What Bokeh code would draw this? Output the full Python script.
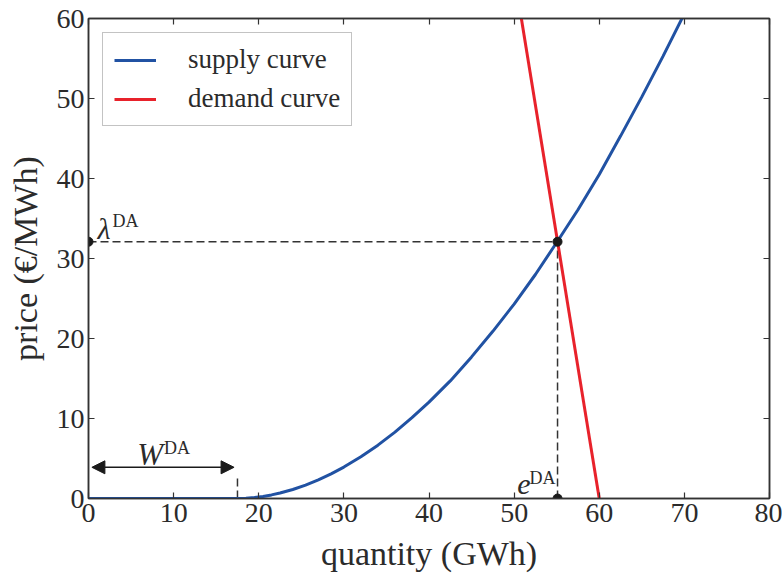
from bokeh.plotting import figure
from bokeh.models import (LinearAxis, Range1d, Label, Arrow, NormalHead, FixedTicker)
from bokeh.embed import file_html
from bokeh.resources import INLINE

# ---- data ----
supply_q = [0, 17.5, 18.5, 19.5, 20.5, 21.5, 22.5, 24, 25.5, 27, 28.5, 30, 32, 34, 36,
            38, 40, 42.5, 45, 47.5, 50, 52.5, 55, 57.5, 60, 62.5, 65, 67.5, 70]
supply_p = [0, 0, 0.03, 0.12, 0.26, 0.45, 0.68, 1.13, 1.68, 2.33, 3.08, 3.93, 5.22,
            6.67, 8.30, 10.1, 12.04, 14.7, 17.7, 20.9, 24.3, 28.0, 32.0, 36.1, 40.5,
            45.3, 50.2, 55.3, 60.6]
demand_q = [50.85, 60.0]
demand_p = [60.0, 0.0]
e_star = 55.1          # equilibrium quantity e^DA
lam_star = 32.1        # equilibrium price lambda^DA
W_da = 17.5            # W^DA
W_arrow_y = 3.9
W_dash_top = 3.0
x_ticks = [0, 10, 20, 30, 40, 50, 60, 70, 80]
y_ticks = [0, 10, 20, 30, 40, 50, 60]

FONT = "Liberation Serif"
TXT = "#2b2b2b"
AX = "#333333"
BLUE = "#2152a3"
RED = "#e8222b"

p = figure(width=782, height=577, output_backend="svg", toolbar_location=None,
           x_range=Range1d(0, 80), y_range=Range1d(0, 60),
           x_axis_label="quantity (GWh)", y_axis_label="price (€/MWh)",
           min_border_left=88, min_border_right=13, min_border_top=18,
           min_border_bottom=79)
p.grid.visible = False
p.outline_line_color = AX
p.outline_line_width = 1.5

for ax in p.xaxis + p.yaxis:
    ax.major_tick_in = 6
    ax.major_tick_out = 0
    ax.minor_tick_line_color = None
    ax.axis_line_color = AX
    ax.axis_line_width = 1.5
    ax.major_tick_line_color = AX
    ax.major_tick_line_width = 1.2
    ax.major_label_text_font = FONT
    ax.major_label_text_font_size = "28px"
    ax.major_label_text_color = TXT
    ax.axis_label_text_font = FONT
    ax.axis_label_text_font_size = "34px"
    ax.axis_label_text_font_style = "normal"
    ax.axis_label_text_color = TXT
p.xaxis.ticker = FixedTicker(ticks=x_ticks)
p.yaxis.ticker = FixedTicker(ticks=y_ticks)
p.xaxis.major_label_standoff = 5
p.xaxis.axis_label_standoff = 10
p.yaxis.major_label_standoff = 4
p.yaxis.axis_label_standoff = 10

# extra axes for ticks on top and right (no labels)
for loc, ticks in (("above", x_ticks), ("right", y_ticks)):
    ax = LinearAxis(ticker=FixedTicker(ticks=ticks), major_label_text_font_size="1px",
                    major_label_text_color=None, major_label_standoff=0,
                    major_tick_in=6, major_tick_out=0, minor_tick_line_color=None,
                    axis_line_color=AX, axis_line_width=1.5,
                    major_tick_line_color=AX, major_tick_line_width=1.2)
    p.add_layout(ax, loc)

# dashed guide lines
p.line([0, e_star], [lam_star, lam_star], line_dash="8 4", line_color=AX, line_width=1.5)
p.line([e_star, e_star], [0, lam_star], line_dash="8 4", line_color=AX, line_width=1.5)
p.line([W_da, W_da], [0, W_dash_top], line_dash="8 4", line_color=AX, line_width=1.5)

# curves
p.line(supply_q, supply_p, line_color=BLUE, line_width=3, legend_label="supply curve")
p.line(demand_q, demand_p, line_color=RED, line_width=3, legend_label="demand curve")

# points
p.scatter([0, e_star, e_star], [lam_star, lam_star, 0], size=9, color="#1a1a1a")

# W arrow
p.add_layout(Arrow(x_start=0.4, y_start=W_arrow_y, x_end=W_da - 0.4, y_end=W_arrow_y,
                   line_color="#1a1a1a", line_width=1.5,
                   start=NormalHead(size=13, fill_color="#1a1a1a", line_color="#1a1a1a"),
                   end=NormalHead(size=13, fill_color="#1a1a1a", line_color="#1a1a1a")))

def lab(x, y, text, xo, yo, size, italic=False, align="left"):
    p.add_layout(Label(x=x, y=y, text=text, x_offset=xo, y_offset=yo,
                       text_font=FONT, text_font_size=size, text_color=TXT,
                       text_font_style="italic" if italic else "normal",
                       text_align=align, text_baseline="alphabetic"))

lab(0, lam_star, "λ", 9, 13, "30px", italic=True)
lab(0, lam_star, "DA", 24, 21, "18px")
lab(W_da / 2, 0, "W", 0, 44, "31px", italic=True, align="right")
lab(W_da / 2, 0, "DA", 1, 51, "18px")
lab(e_star, 0, "e", -27, 14, "30px", italic=True, align="right")
lab(e_star, 0, "DA", -2, 21, "18px", align="right")

lg = p.legend[0]
lg.location = "top_left"
lg.margin = 14
lg.padding = 11
lg.spacing = 8
lg.glyph_width = 42
lg.glyph_height = 28
lg.label_height = 28
lg.label_standoff = 32
lg.label_text_font = FONT
lg.label_text_font_size = "27px"
lg.label_text_color = TXT
lg.border_line_color = "#888888"
lg.border_line_width = 1.2
lg.background_fill_alpha = 1.0

open("out.html", "w").write(file_html(p, INLINE))
